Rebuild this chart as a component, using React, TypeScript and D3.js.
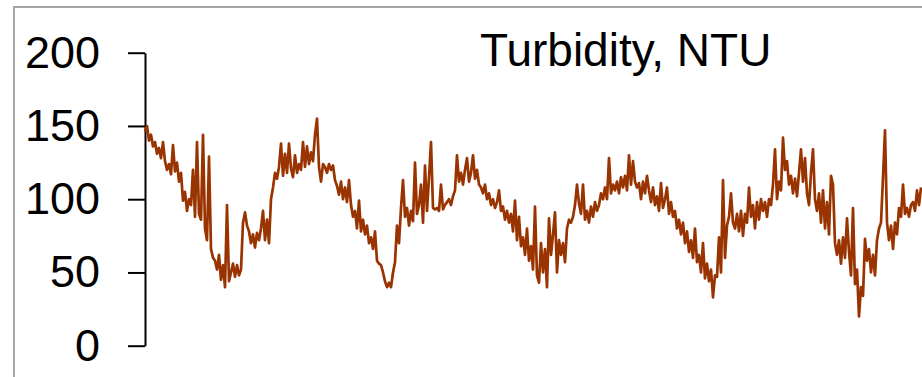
import { useEffect, useRef } from "react";
import * as d3 from "d3";

// Turbidity readings (NTU) from left to right
const TURBIDITY = [
  146, 150, 140, 144, 136, 139, 131, 135, 128, 139,
  126, 120, 124, 117, 137, 119, 125, 112, 118, 99,
  105, 92, 100, 96, 120, 88, 139, 90, 86, 144,
  80, 72, 129, 66, 60, 58, 52, 62, 45, 55,
  40, 96, 44, 50, 56, 47, 55, 48, 52, 84,
  91, 82, 78, 70, 76, 67, 77, 72, 80, 92,
  72, 86, 70, 100, 108, 118, 114, 122, 138, 116,
  131, 118, 138, 121, 115, 130, 118, 124, 120, 139,
  122, 136, 124, 132, 126, 144, 155, 122, 112, 124,
  122, 118, 124, 120, 123, 113, 109, 103, 112, 100,
  108, 98, 113, 96, 88, 92, 80, 99, 78, 86,
  76, 82, 70, 74, 66, 78, 58, 56, 55, 50,
  44, 40, 43, 40, 50, 57, 82, 70, 94, 113,
  88, 94, 82, 92, 85, 125, 90, 96, 110, 84,
  123, 92, 115, 139, 94, 93, 94, 92, 110, 93,
  96, 98, 100, 96, 102, 106, 130, 112, 118, 110,
  120, 128, 112, 118, 130, 114, 120, 110, 108, 104,
  110, 100, 104, 96, 100, 94, 98, 106, 92, 95,
  86, 92, 84, 90, 78, 99, 72, 88, 68, 74,
  62, 80, 58, 68, 52, 95, 48, 43, 70, 50,
  66, 40, 87, 62, 76, 91, 50, 72, 62, 70,
  57, 80, 86, 84, 88, 96, 110, 97, 90, 110,
  86, 92, 84, 95, 88, 98, 92, 96, 104, 100,
  108, 100, 128, 104, 110, 106, 112, 104, 115, 108,
  116, 106, 130, 110, 126, 112, 108, 111, 100, 112,
  104, 116, 106, 98, 108, 96, 102, 92, 111, 94,
  100, 108, 90, 98, 88, 92, 80, 86, 76, 84,
  70, 78, 64, 72, 60, 80, 57, 62, 50, 70,
  46, 56, 44, 52, 33, 48, 47, 74, 50, 113,
  60, 82, 88, 104, 84, 80, 90, 78, 92, 75,
  90, 84, 108, 88, 96, 80, 98, 86, 100, 92,
  98, 88, 100, 96, 110, 134, 100, 112, 106, 142,
  120, 126, 110, 116, 104, 114, 102, 118, 134, 112,
  128, 104, 96, 118, 134, 100, 92, 104, 84, 106,
  80, 98, 76, 116, 110, 70, 62, 72, 56, 74,
  60, 87, 64, 48, 94, 42, 52, 20, 40, 34,
  73, 58, 66, 50, 62, 48, 72, 80, 84, 115,
  147, 84, 72, 82, 66, 84, 76, 94, 88, 110,
  90, 94, 88, 96, 98, 92, 106, 96, 108,
];

const Y_TICKS = [0, 50, 100, 150, 200];
const TITLE = "Turbidity, NTU";

const WIDTH = 922;
const HEIGHT = 377;

export default function App() {
  const svgRef = useRef<SVGSVGElement>(null);

  useEffect(() => {
    const svg = d3.select(svgRef.current);
    svg.selectAll("*").remove();

    const left = 145;
    const right = 921;
    const top = 52.7;
    const bottom = 345.7;

    const x = d3.scaleLinear().domain([0, TURBIDITY.length - 1]).range([left, right]);
    const y = d3.scaleLinear().domain([0, 200]).range([bottom, top]);

    // chart frame (only left/top visible)
    svg.append("rect")
      .attr("x", 14)
      .attr("y", 7)
      .attr("width", 1200)
      .attr("height", 1200)
      .attr("fill", "none")
      .attr("stroke", "#a6a6a6")
      .attr("stroke-width", 2);

    // Y axis
    const axis = svg.append("g")
      .attr("transform", `translate(${left},0)`)
      .call(d3.axisLeft(y).tickValues(Y_TICKS).tickSize(17).tickSizeOuter(0).tickPadding(28));

    axis.select(".domain").attr("stroke", "#000").attr("stroke-width", 2);
    axis.selectAll(".tick line").attr("stroke", "#000").attr("stroke-width", 2);
    axis.selectAll("text")
      .attr("fill", "#000")
      .attr("font-size", "45px")
      .attr("font-family", "Liberation Sans, Arial, sans-serif");

    // series
    const line = d3.line<number>()
      .x((_, i) => x(i))
      .y((d) => y(d));

    svg.append("path")
      .datum(TURBIDITY)
      .attr("fill", "none")
      .attr("stroke", "#993300")
      .attr("stroke-width", 2.7)
      .attr("stroke-linejoin", "round")
      .attr("d", line);

    // title
    svg.append("text")
      .attr("x", 480)
      .attr("y", 66)
      .attr("fill", "#000")
      .attr("font-size", "46px")
      .attr("font-family", "Liberation Sans, Arial, sans-serif")
      .text(TITLE);
  }, []);

  return (
    <svg
      ref={svgRef}
      width={WIDTH}
      height={HEIGHT}
      style={{ position: "absolute", left: 0, top: 0, background: "#fff" }}
    />
  );
}
